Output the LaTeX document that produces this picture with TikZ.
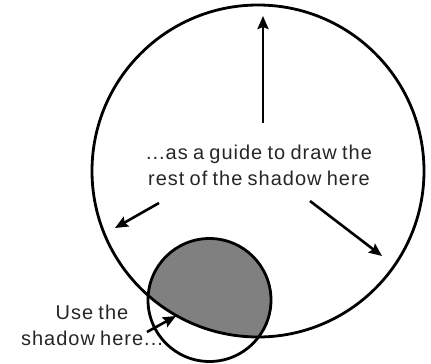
\documentclass[tikz,border=0pt]{standalone}
\usepackage{fontspec}
\setmainfont{Liberation Sans}[LetterSpace=5,WordSpace=0.8]
\usetikzlibrary{arrows.meta}
\definecolor{shadowgrey}{RGB}{128,128,128}
\tikzset{
  outline/.style={draw=black, line width=2.8pt},
  pointer/.style={draw=black, line width=2.6pt, -{Stealth[length=13pt,width=11pt,inset=2pt]}},
  label/.style={align=center, inner sep=0pt, font=\fontsize{20}{26}\selectfont, text=black!85}
}
\begin{document}
\begin{tikzpicture}[x=1pt,y=-1pt]
\useasboundingbox (0,0) rectangle (431,364);
\coordinate (big) at (258,171);
\coordinate (small) at (209.5,300);
\begin{scope}
  \clip (big) circle[radius=166];
  \fill[fill=shadowgrey] (small) circle[radius=61.5];
\end{scope}
\draw[outline] (big) circle[radius=166];
\draw[outline] (small) circle[radius=61.5];
\node[label] (guide) at (259,165) {...as a guide to draw the\\rest of the shadow here};
\node[label] (use) at (92,325) {Use the\\shadow here...};
\coordinate (upS) at (263,123);
\coordinate (upE) at (263,16);
\coordinate (lS) at (159,203);
\coordinate (lE) at (115,228);
\coordinate (rS) at (310,201);
\coordinate (rE) at (382,256);
\coordinate (sS) at (147,332);
\coordinate (sE) at (176,316);
\draw[pointer] (upS) -- (upE);
\draw[pointer] (lS) -- (lE);
\draw[pointer] (rS) -- (rE);
\draw[pointer] (sS) -- (sE);
\end{tikzpicture}
\end{document}
